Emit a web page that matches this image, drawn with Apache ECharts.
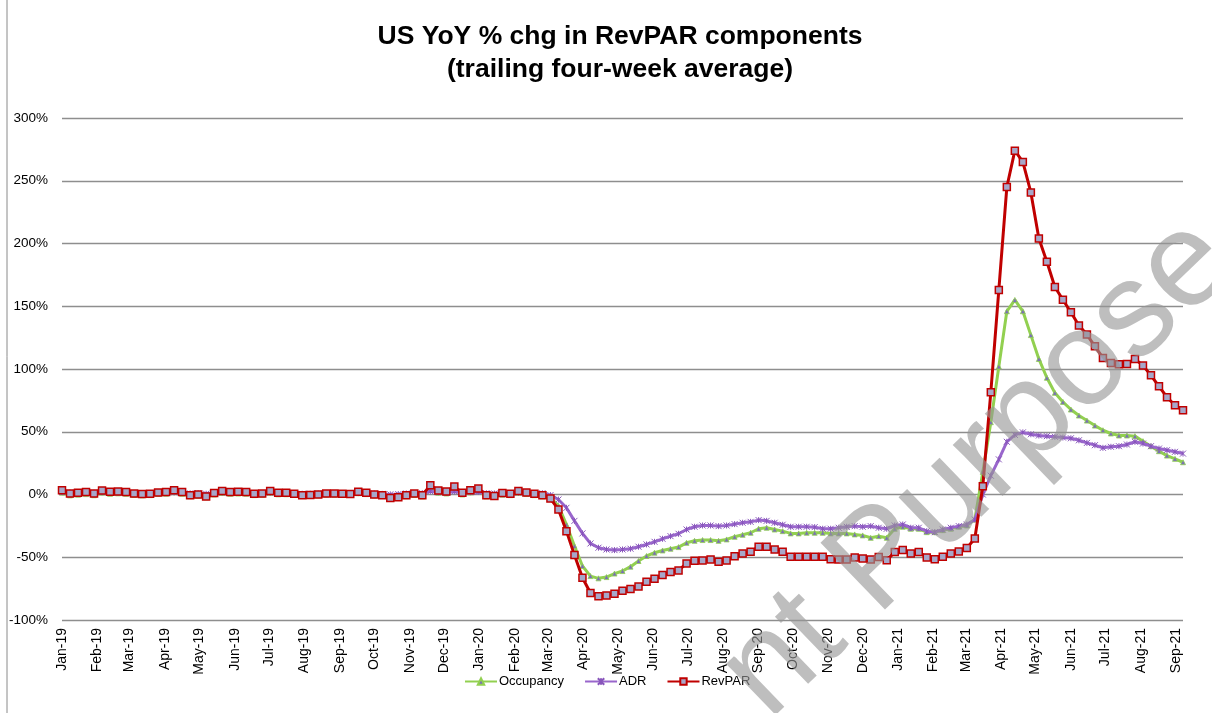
<!DOCTYPE html>
<html>
<head>
<meta charset="utf-8">
<script src="https://cdn.jsdelivr.net/npm/echarts@6/dist/echarts.min.js"></script>
<style>
html,body{margin:0;padding:0;background:#fff;}
#chart{width:1212px;height:713px;}
</style>
</head>
<body>
<div id="chart"></div>
<script>
// ---- data ----
const firstWeek = '2019-01-05'; // weekly points (week ending), 141 weeks
const tickDates = ['2019-01-05','2019-02-05','2019-03-05','2019-04-05','2019-05-05','2019-06-05','2019-07-05','2019-08-05','2019-09-05','2019-10-05','2019-11-05','2019-12-05',
  '2020-01-05','2020-02-05','2020-03-05','2020-04-05','2020-05-05','2020-06-05','2020-07-05','2020-08-05','2020-09-05','2020-10-05','2020-11-05','2020-12-05',
  '2021-01-05','2021-02-05','2021-03-05','2021-04-05','2021-05-05','2021-06-05','2021-07-05','2021-08-05','2021-09-05'];
const tickLabels = ['Jan-19','Feb-19','Mar-19','Apr-19','May-19','Jun-19','Jul-19','Aug-19','Sep-19','Oct-19','Nov-19','Dec-19',
  'Jan-20','Feb-20','Mar-20','Apr-20','May-20','Jun-20','Jul-20','Aug-20','Sep-20','Oct-20','Nov-20','Dec-20',
  'Jan-21','Feb-21','Mar-21','Apr-21','May-21','Jun-21','Jul-21','Aug-21','Sep-21'];
const yTicks = [-100,-50,0,50,100,150,200,250,300];

const occupancy = [
  1.4,-0.7,-0.2,0.3,-0.6,1.4,0.5,0.9,0.5,-0.4,
  -0.7,-0.5,0.4,0.6,1.8,0.5,-1.4,-1.0,-2.2,0.0,
  1.2,0.5,0.7,0.6,-0.5,-0.2,1.3,0.1,0.2,-0.4,
  -1.1,-0.9,-0.7,-0.1,-0.1,-0.3,-0.4,1.0,0.3,-0.8,
  -1.0,-2.8,-2.4,-1.3,-0.4,-1.5,4.8,1.4,0.8,3.8,
  0.0,1.6,2.8,-1.5,-1.9,-0.1,-0.5,1.3,0.4,-0.5,
  -1.5,-2.5,-9,-24,-41,-57,-65,-66.8,-65.8,-63,
  -61,-57.5,-53,-49,-46.4,-44.6,-43.2,-41.9,-38.5,-36.9,
  -36.3,-36.3,-36.9,-35.8,-33.7,-32.1,-30.5,-27.3,-26.5,-27.9,
  -29.2,-31,-31,-30.5,-30.5,-30.5,-31,-31,-31,-31.8,
  -32.6,-34.5,-33.2,-34.5,-27.3,-25.7,-27.3,-27.3,-30,-30,
  -28.4,-27.3,-25.7,-24.7,-20,18,57.6,102,146,155,
  146,127,108,93,81,73.8,67.7,62.9,58.9,54.9,
  51.2,48.6,47,47,46.5,42.5,38.5,34.5,31,28.4,
  25.7
];
const adr = [
  2.0,1.5,1.5,1.6,1.4,1.8,1.6,1.5,1.4,1.2,
  1.0,1.0,1.2,1.3,1.6,1.4,0.9,1.0,0.6,1.1,
  1.5,1.4,1.4,1.3,1.0,1.0,1.4,1.2,1.1,0.9,
  0.6,0.6,0.7,0.9,0.9,0.8,0.7,1.1,1.0,0.8,
  0.5,0.1,0.3,0.8,1.2,1.0,2.5,1.8,1.6,2.4,
  1.3,1.8,2.0,1.0,0.8,1.2,1.0,1.4,1.2,1.0,
  1.0,-0.5,-4,-10.6,-21,-31,-39,-42.4,-43.8,-44.3,
  -43.8,-43.2,-41.6,-39.8,-37.7,-35.3,-33.2,-31.3,-27.9,-25.7,
  -24.7,-24.7,-25.2,-24.7,-23.6,-22.5,-21.8,-20.4,-21,-22.5,
  -24.1,-25.7,-25.7,-25.7,-26,-27.3,-27.3,-26.5,-25.7,-25.2,
  -25.7,-25.2,-26.5,-27.3,-24.7,-23.9,-26.5,-26.5,-29.2,-30,
  -27.9,-26.5,-25.2,-23.9,-20,0,15,28,42,47.5,
  49.5,48,47,46.5,46,45.4,44.8,43.2,41.1,39.3,
  37.2,38,38.5,39.8,42,40.6,38.5,36.6,35.3,34,
  32.6
];
const revpar = [
  3.4,0.8,1.3,1.9,0.8,3.2,2.1,2.4,1.9,0.8,
  0.3,0.5,1.6,1.9,3.4,1.9,-0.5,0,-1.6,1.1,
  2.7,1.9,2.1,1.9,0.5,0.8,2.7,1.3,1.3,0.5,
  -0.5,-0.3,0,0.8,0.8,0.5,0.3,2.1,1.3,0,
  -0.5,-2.7,-2.1,-0.5,0.8,-0.5,7.4,3.2,2.4,6.3,
  1.3,3.4,4.8,-0.5,-1.1,1.1,0.5,2.7,1.6,0.5,
  -0.5,-3.2,-11.9,-29.2,-48.3,-66.3,-78.5,-81,-80.4,-79,
  -76.7,-75.3,-73.3,-69.5,-67.1,-64.2,-61.8,-60.5,-54.9,-52.8,
  -52.5,-51.7,-53.6,-52.5,-49.3,-47,-45.6,-41.6,-41.6,-43.8,
  -45.6,-49.6,-49.6,-49.6,-49.6,-49.6,-51.5,-51.7,-51.7,-50.1,
  -50.9,-51.7,-49.9,-52.3,-45.9,-44.3,-47,-45.9,-50.1,-51.5,
  -49.6,-47,-45.4,-42.7,-35,6.6,81.5,163,245,274,
  265,240.7,204,185.5,165.3,155.2,145.2,134.6,127.4,118.1,
  108.8,104.8,103.7,104,108,102.7,95,86.2,77.5,71.1,
  67.1
];

// ---- build ----
const DAY = 86400000;
const t0 = Date.parse(firstWeek + 'T00:00:00Z');
// x is expressed in days since the first week
const weeks = revpar.map((_, i) => i * 7);
const tickDays = tickDates.map(d => Math.round((Date.parse(d + 'T00:00:00Z') - t0) / DAY));

function labelFor(v) {
  for (let i = 0; i < tickDays.length; i++) {
    if (Math.abs(tickDays[i] - v) < 0.5) return tickLabels[i];
  }
  return '';
}

const FONT = 'Liberation Sans, Arial, sans-serif';
const chart = echarts.init(document.getElementById('chart'), null, {renderer: 'canvas'});

chart.setOption({
  backgroundColor: '#ffffff',
  animation: false,
  title: {
    text: 'US YoY % chg in RevPAR components\n(trailing four-week average)',
    left: 615,
    top: 15,
    textAlign: 'center',
    textStyle: {fontFamily: FONT, fontSize: 26.5, fontWeight: 'bold', color: '#000', lineHeight: 33}
  },
  legend: {
    left: 459,
    top: 670,
    itemWidth: 32,
    itemHeight: 8,
    itemGap: 20,
    textStyle: {fontFamily: FONT, fontSize: 13, color: '#000', padding: [0, 0, 0, -3]},
    data: ['Occupancy', 'ADR', 'RevPAR']
  },
  grid: {left: 62, right: 29, top: 118, bottom: 93, containLabel: false},
  xAxis: {
    type: 'value',
    min: weeks[0],
    max: weeks[weeks.length - 1],
    axisLine: {show: false},
    axisTick: {show: false},
    splitLine: {show: false},
    axisLabel: {
      customValues: tickDays,
      rotate: 90,
      margin: 8,
      fontFamily: FONT,
      fontSize: 14,
      color: '#000',
      formatter: labelFor,
      hideOverlap: false,
      showMinLabel: true,
      showMaxLabel: true
    }
  },
  yAxis: {
    type: 'value',
    min: -100,
    max: 300,
    interval: 50,
    axisLine: {show: false},
    axisTick: {show: false},
    axisLabel: {formatter: '{value}%', fontFamily: FONT, fontSize: 13.5, color: '#000', margin: 14},
    splitLine: {lineStyle: {color: '#8e8e8e', width: 1.3}}
  },
  graphic: [
    {type: 'line', shape: {x1: 7, y1: 0, x2: 7, y2: 713}, style: {stroke: '#8a8a8a', lineWidth: 1}, z: 0},
    {
      type: 'text', x: 978, y: 468, rotation: 44 * Math.PI / 180, z: 100, silent: true,
      style: {text: 'nt Purpose', font: '135px ' + FONT, fill: 'rgba(150,150,150,0.62)', textAlign: 'center', textVerticalAlign: 'middle'}
    }
  ],
  series: [
    {
      name: 'Occupancy', type: 'line',
      data: weeks.map((d, i) => [d, occupancy[i]]),
      symbol: 'triangle', symbolSize: 5, showSymbol: true,
      lineStyle: {color: '#92D050', width: 3},
      itemStyle: {color: '#7a6fb5', borderColor: '#92D050', borderWidth: 0.8},
      z: 2
    },
    {
      name: 'ADR', type: 'line',
      data: weeks.map((d, i) => [d, adr[i]]),
      symbol: 'path://M0,0L8,8M8,0L0,8M4,0L4,8', symbolSize: 6, showSymbol: true,
      lineStyle: {color: '#9966CC', width: 3},
      itemStyle: {color: '#9966CC', borderColor: '#8855bb', borderWidth: 1},
      z: 3
    },
    {
      name: 'RevPAR', type: 'line',
      data: weeks.map((d, i) => [d, revpar[i]]),
      symbol: 'rect', symbolSize: 7, showSymbol: true,
      lineStyle: {color: '#C00000', width: 3},
      itemStyle: {color: '#a7a7c9', borderColor: '#C00000', borderWidth: 1.5},
      z: 4
    }
  ]
});
</script>
</body>
</html>
